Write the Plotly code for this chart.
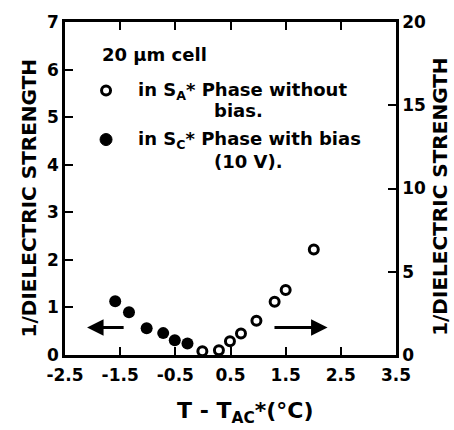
import plotly.graph_objects as go

# Data
# Filled circles: S_C* phase with bias (left axis, 0-7)
sc_x = [-1.59, -1.34, -1.02, -0.72, -0.51, -0.28]
sc_y = [1.13, 0.90, 0.56, 0.46, 0.31, 0.24]
# Open circles: S_A* phase without bias (right axis, 0-20)
sa_x = [-0.01, 0.29, 0.49, 0.69, 0.97, 1.30, 1.50, 2.01]
sa_y = [0.23, 0.29, 0.83, 1.29, 2.06, 3.20, 3.91, 6.34]

x_ticks = [-2.5, -1.5, -0.5, 0.5, 1.5, 2.5, 3.5]
x_ticktext = ["-2.5", "-1.5", "-0.5", "0.5", "1.5", "2.5", "3.5"]
y_left_ticks = [0, 1, 2, 3, 4, 5, 6, 7]
y_right_ticks = [0, 5, 10, 15, 20]

FONT = "DejaVu Sans"
tickfont = dict(family=FONT, size=17, color="black", weight="bold")

fig = go.Figure()
fig.add_trace(go.Scatter(
    x=sc_x, y=sc_y, mode="markers", yaxis="y",
    marker=dict(symbol="circle", size=12, color="black"),
    showlegend=False))
fig.add_trace(go.Scatter(
    x=sa_x, y=sa_y, mode="markers", yaxis="y2",
    marker=dict(symbol="circle-open", size=9, color="black", line=dict(width=3)),
    showlegend=False))

axis_common = dict(showline=True, linecolor="black", linewidth=2.5,
                   ticks="inside", ticklen=8, tickwidth=2, tickcolor="black",
                   showgrid=False, zeroline=False, tickfont=tickfont)

fig.update_layout(
    width=454, height=430,
    margin=dict(l=65, r=58, t=15, b=75),
    paper_bgcolor="white", plot_bgcolor="white",
    xaxis=dict(range=[-2.5, 3.5], tickvals=x_ticks, ticktext=x_ticktext,
               mirror="ticks", ticklabelstandoff=3, **axis_common),
    yaxis=dict(range=[0, 7], tickvals=y_left_ticks, **axis_common),
    yaxis2=dict(range=[0, 20], tickvals=y_right_ticks, overlaying="y", side="right",
                **axis_common),
)

ann_font = dict(family=FONT, size=18, color="black", weight="bold")
anns = [
    dict(text="20 μm cell", x=0.106, y=0.903),
    dict(text="in S<sub>A</sub>* Phase without", x=0.214, y=0.794),
    dict(text="bias.", x=0.444, y=0.735),
    dict(text="in S<sub>C</sub>* Phase with bias", x=0.214, y=0.647),
    dict(text="(10 V).", x=0.444, y=0.582),
]
for a in anns:
    fig.add_annotation(xref="paper", yref="paper", xanchor="left", yanchor="middle",
                       showarrow=False, font=ann_font, **a)

# legend symbols
fig.add_shape(type="circle", xref="paper", yref="paper", xsizemode="pixel", ysizemode="pixel",
              xanchor=0.124, yanchor=0.794, x0=-4.5, x1=4.5, y0=-4.5, y1=4.5,
              line=dict(color="black", width=3), fillcolor="white")
fig.add_shape(type="circle", xref="paper", yref="paper", xsizemode="pixel", ysizemode="pixel",
              xanchor=0.124, yanchor=0.647, x0=-6, x1=6, y0=-6, y1=6,
              line=dict(color="black", width=1), fillcolor="black")

# arrows pointing to respective axes
fig.add_annotation(x=-2.10, y=0.58, ax=-1.41, ay=0.58, xref="x", yref="y",
                   axref="x", ayref="y", text="", showarrow=True,
                   arrowhead=2, arrowsize=1.1, arrowwidth=3, arrowcolor="black")
fig.add_annotation(x=2.26, y=0.58, ax=1.27, ay=0.58, xref="x", yref="y",
                   axref="x", ayref="y", text="", showarrow=True,
                   arrowhead=2, arrowsize=1.1, arrowwidth=3, arrowcolor="black")

title_font = dict(family=FONT, size=20, color="black", weight="bold")
fig.add_annotation(text="T - T<sub>AC</sub>*(°C)", xref="paper", yref="paper",
                   x=0.544, y=-0.172, showarrow=False, xanchor="center", yanchor="middle",
                   font=dict(family=FONT, size=22, color="black", weight="bold"))
fig.add_annotation(text="1/DIELECTRIC STRENGTH", xref="paper", yref="paper",
                   x=-0.106, y=0.47, textangle=-90, showarrow=False,
                   xanchor="center", yanchor="middle", font=title_font)
fig.add_annotation(text="1/DIELECTRIC STRENGTH", xref="paper", yref="paper",
                   x=1.133, y=0.475, textangle=-90, showarrow=False,
                   xanchor="center", yanchor="middle", font=title_font)

fig.write_html("out.html", config={"displayModeBar": False},
               post_script="document.body.style.margin='0';")
